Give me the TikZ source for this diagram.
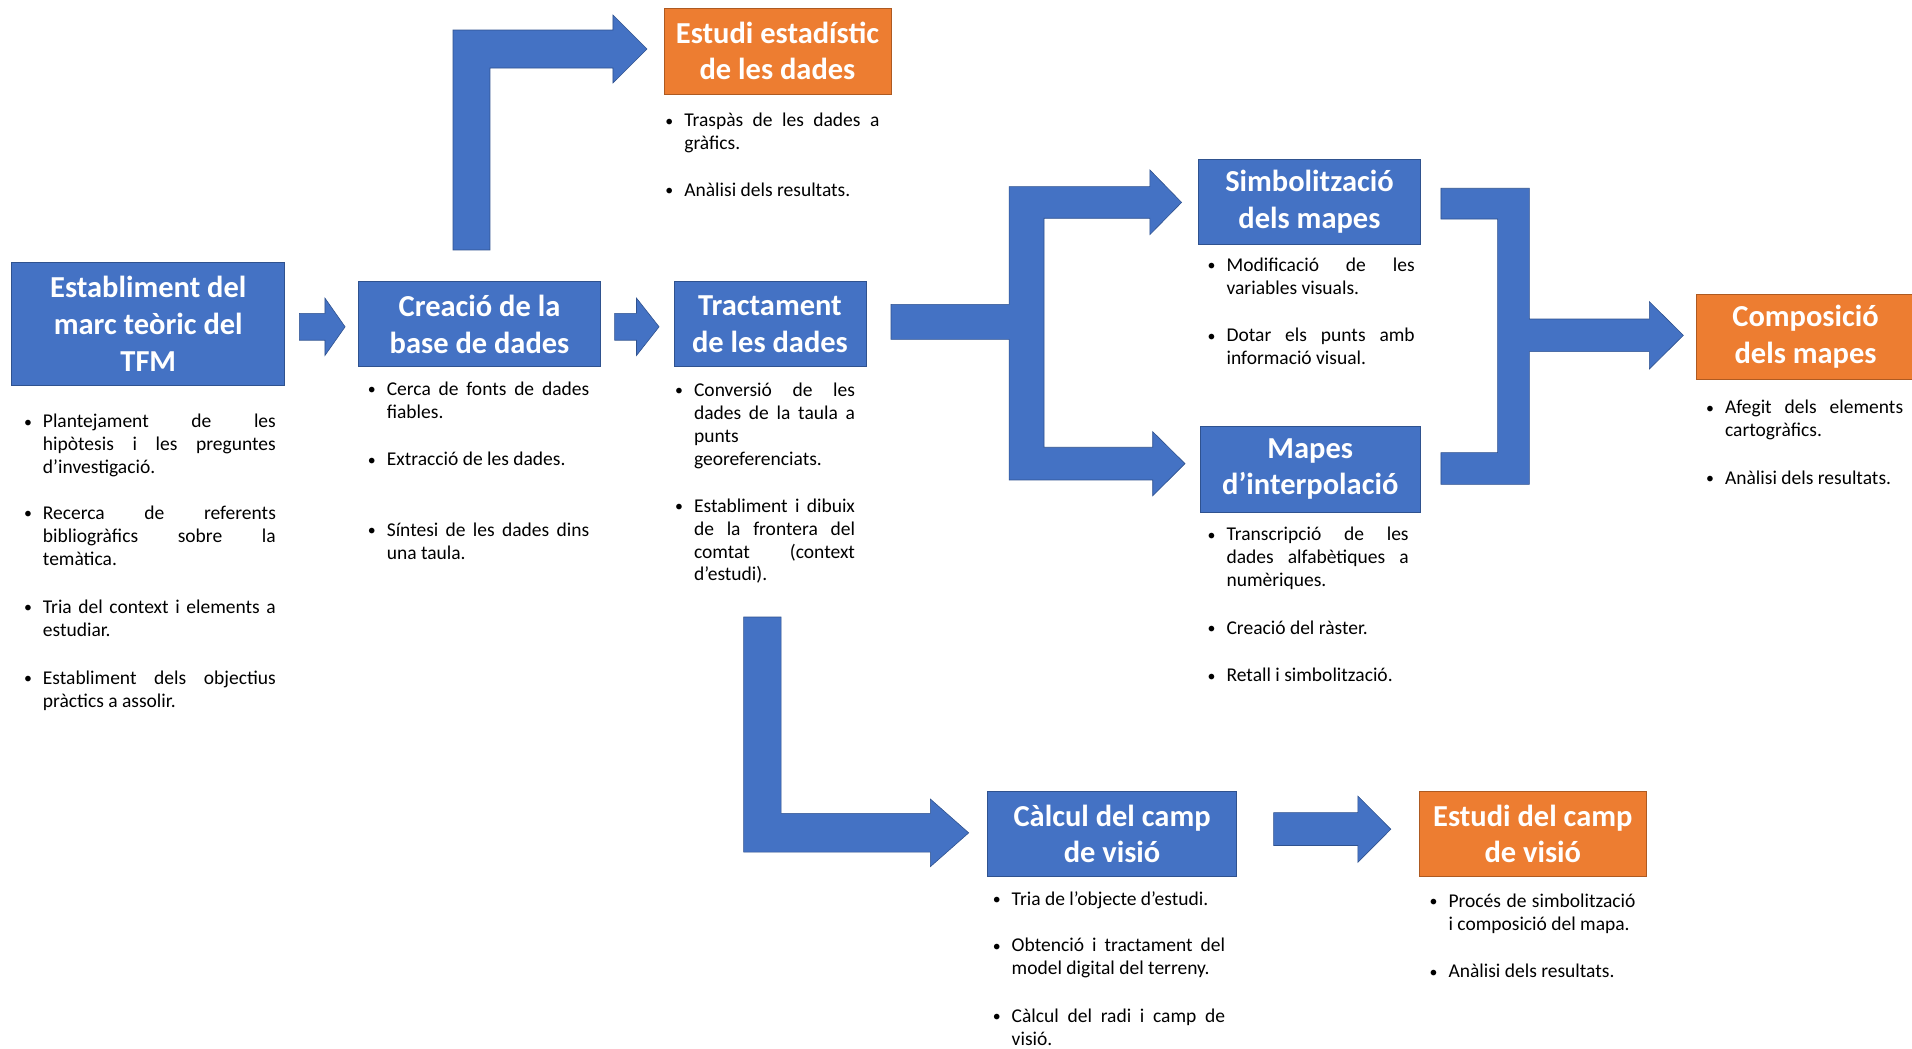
\documentclass[tikz,border=0pt]{standalone}
\usepackage{fontspec}
\setmainfont{Carlito}
\definecolor{bl}{HTML}{4472C4}
\definecolor{bld}{HTML}{2F528F}
\definecolor{orf}{HTML}{ED7D31}
\definecolor{ord}{HTML}{AE5A21}
\newcommand\J[1]{\makebox[\hsize][s]{#1}}
\newcommand\bi{\spaceskip=0pt\xspaceskip=0pt\leavevmode\llap{\raisebox{0.5pt}{\fontsize{13}{13}\selectfont•}\hspace{9pt}}}
\tikzset{
  titlebox/.style={fill=bl, draw=bld, line width=0.6pt, text=white,
    font=\fontsize{25}{30}\selectfont\bfseries, align=center, inner sep=0pt},
  orangebox/.style={titlebox, fill=orf, draw=ord},
  bultext/.style={anchor=base west, inner sep=0pt, align=left,
    font=\fontsize{16}{18.8}\selectfont},
  barrow/.style={fill=bl, draw=bld, line width=0.5pt, line join=miter},
}
\begin{document}
\begin{tikzpicture}[x={(1pt,0)}, y={(0,-1pt)}]
\fill[white] (0,0) rectangle (1568,860);
\useasboundingbox (0,0) rectangle (1568,860);

% ---------- boxes ----------
\node[titlebox, minimum width=223.8pt, minimum height=100.3pt] (estab) at (121.6,265.55) {Establiment del\\marc teòric del\\TFM};
\node[titlebox, minimum width=198.7pt, minimum height=69.7pt] (crea) at (393.25,265.85) {Creació de la\\base de dades};
\node[titlebox, minimum width=157.5pt, minimum height=69.7pt] (tract) at (631.45,265.85) {Tractament\\de les dades};
\node[orangebox, minimum width=186.2pt, minimum height=70.5pt] (estest) at (637.6,41.85) {Estudi estadístic\\de les dades};
\node[titlebox, minimum width=182.3pt, minimum height=69.5pt] (simb) at (1073.85,165.25) {Simbolització\\dels mapes};
\node[titlebox, minimum width=181pt, minimum height=70.3pt] (mapes) at (1074.5,384.65) {Mapes\\d’interpolació};
\node[orangebox, minimum width=178.6pt, minimum height=69.6pt] (comp) at (1480.7,276.2) {Composició\\dels mapes};
\node[titlebox, minimum width=204pt, minimum height=70.3pt] (calc) at (912,683.85) {Càlcul del camp\\de visió};
\node[orangebox, minimum width=186pt, minimum height=70.3pt] (estcamp) at (1257,683.85) {Estudi del camp\\de visió};

% ---------- block arrows ----------
% estab -> crea
\draw[barrow] (245.5,257) -- (266.5,257) -- (266.5,244.5) -- (283,268) -- (266.5,291.5) -- (266.5,279) -- (245.5,279) -- cycle;
% crea -> tract
\draw[barrow] (504,257) -- (522,257) -- (522,244.5) -- (540.5,268) -- (522,291.5) -- (522,279) -- (504,279) -- cycle;
% crea -> estest (bent)
\draw[barrow] (371.5,205) -- (371.5,24.6) -- (502.7,24.6) -- (502.7,12.3) -- (530.6,40.2) -- (502.7,68) -- (502.7,55.8) -- (401.8,55.8) -- (401.8,205) -- cycle;
% tract -> simb / mapes (split)
\draw[barrow] (730.7,249.6) -- (827.5,249.6) -- (827.5,153.1) -- (943,153.1) -- (943,139.4) -- (969,166) -- (943,192.4) -- (943,179) -- (856.2,179) -- (856.2,366.8) -- (945.3,366.8) -- (945.3,354) -- (971.8,380.2) -- (945.3,406.6) -- (945.3,393.6) -- (827.5,393.6) -- (827.5,278.3) -- (730.7,278.3) -- cycle;
% simb / mapes -> comp (merge)
\draw[barrow] (1181.7,154.4) -- (1254.2,154.4) -- (1254.2,261.6) -- (1352.6,261.6) -- (1352.6,247.4) -- (1380.5,275) -- (1352.6,302.6) -- (1352.6,288.4) -- (1254.2,288.4) -- (1254.2,397.2) -- (1181.7,397.2) -- (1181.7,371.2) -- (1228.2,371.2) -- (1228.2,179.6) -- (1181.7,179.6) -- cycle;
% tract -> calc (L)
\draw[barrow] (609.8,506) -- (640.6,506) -- (640.6,667) -- (763,667) -- (763,655.3) -- (794.4,683) -- (763,710.7) -- (763,698.8) -- (609.8,698.8) -- cycle;
% calc -> estcamp
\draw[barrow] (1044.5,666.4) -- (1113.5,666.4) -- (1113.5,652.8) -- (1140.6,680) -- (1113.5,707.2) -- (1113.5,693.4) -- (1044.5,693.4) -- cycle;

% ---------- bullets ----------
\node[bultext, text width=191pt] (eb1) at (35,350.8) {\bi\J{Plantejament de les}\\\J{hipòtesis i les preguntes}\\d’investigació.};
\node[bultext, text width=191pt] (eb2) at (35,426) {\bi\J{Recerca de referents}\\\J{bibliogràfics sobre la}\\temàtica.};
\node[bultext, text width=191pt] (eb3) at (35,503) {\bi\J{Tria del context i elements a}\\estudiar.};
\node[bultext, text width=191pt] (eb4) at (35,561) {\bi\J{Establiment dels objectius}\\pràctics a assolir.};

\node[bultext, text width=166pt] (cb1) at (317,324) {\bi\J{Cerca de fonts de dades}\\fiables.};
\node[bultext, text width=166pt] (cb2) at (317,382) {\bi Extracció de les dades.};
\node[bultext, text width=166pt] (cb3) at (317,440) {\bi\J{Síntesi de les dades dins}\\una taula.};

\node[bultext, text width=132pt] (tb1) at (569,325) {\bi\J{Conversió de les}\\\J{dades de la taula a}\\punts\\georeferenciats.};
\node[bultext, text width=132pt] (tb2) at (569,420) {\bi\J{Establiment i dibuix}\\\J{de la frontera del}\\\J{comtat (context}\\d’estudi).};

\node[bultext, text width=160pt] (sb1) at (561,104) {\bi\J{Traspàs de les dades a}\\gràfics.};
\node[bultext, text width=160pt] (sb2) at (561,161) {\bi Anàlisi dels resultats.};

\node[bultext, text width=154.3pt] (mb1) at (1005.7,222.5) {\bi\J{Modificació de les}\\variables visuals.};
\node[bultext, text width=154.3pt] (mb2) at (1005.7,280.4) {\bi\J{Dotar els punts amb}\\informació visual.};

\node[bultext, text width=149.3pt] (ib1) at (1005.7,443.6) {\bi\J{Transcripció de les}\\\J{dades alfabètiques a}\\numèriques.};
\node[bultext, text width=149.3pt] (ib2) at (1005.7,520.3) {\bi Creació del ràster.};
\node[bultext, text width=149.3pt] (ib3) at (1005.7,559) {\bi Retall i simbolització.};

\node[bultext, text width=146pt] (pb1) at (1414.5,339.2) {\bi\J{Afegit dels elements}\\cartogràfics.};
\node[bultext, text width=146pt] (pb2) at (1414.5,397.4) {\bi Anàlisi dels resultats.};

\node[bultext, text width=175pt] (kb1) at (829.5,742.5) {\bi Tria de l’objecte d’estudi.};
\node[bultext, text width=175pt] (kb2) at (829.5,780.5) {\bi\J{Obtenció i tractament del}\\model digital del terreny.};
\node[bultext, text width=175pt] (kb3) at (829.5,838.2) {\bi\J{Càlcul del radi i camp de}\\visió.};

\node[bultext, text width=153.3pt] (fb1) at (1187.7,744) {\bi\J{Procés de simbolització}\\i composició del mapa.};
\node[bultext, text width=153.3pt] (fb2) at (1187.7,801.8) {\bi Anàlisi dels resultats.};
\end{tikzpicture}
\end{document}
